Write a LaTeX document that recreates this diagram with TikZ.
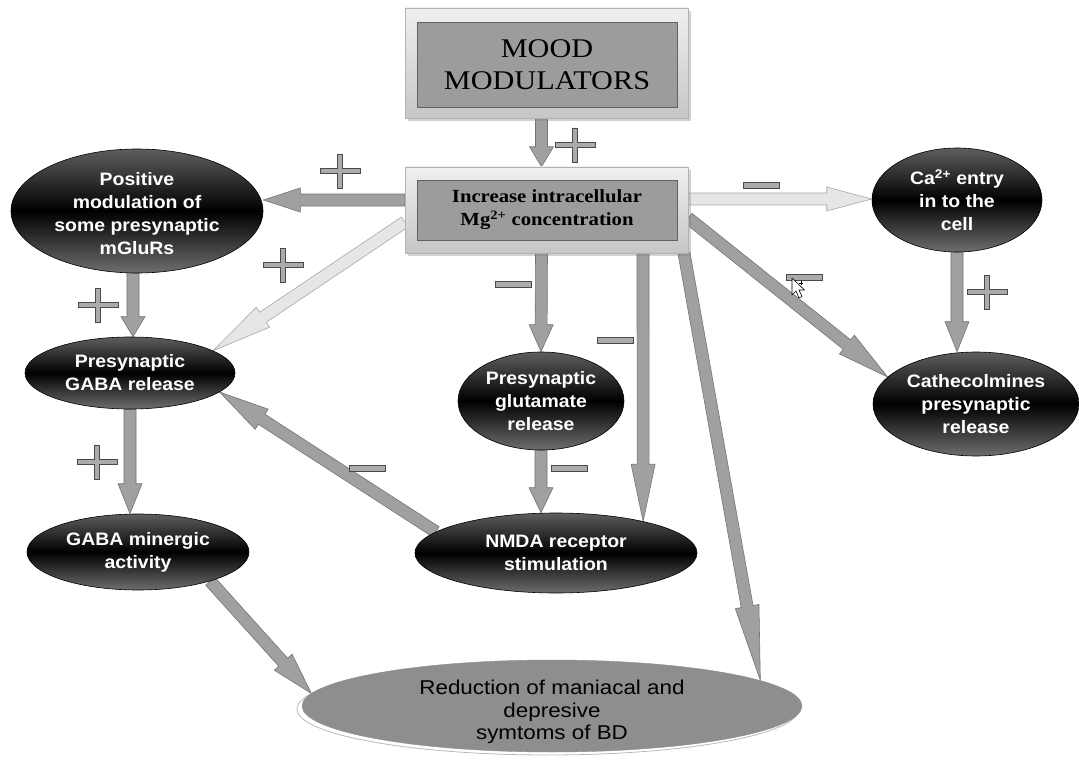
\documentclass[tikz,border=0pt]{standalone}
\usepackage{fontspec}
\setmainfont{Liberation Serif}
\newfontfamily\sanslab{Liberation Sans}[FakeStretch=1.08]
\newfontfamily\sanswide{Liberation Sans}[FakeStretch=1.12]
\newfontfamily\seriflab{Liberation Serif}[FakeStretch=1.12]
\usetikzlibrary{shapes.geometric,calc,shadows}
\pgfdeclarelayer{back}
\pgfdeclarelayer{bg}
\pgfsetlayers{back,bg,main}
\definecolor{arrfill}{HTML}{A0A0A0}
\definecolor{arrline}{HTML}{747474}
\definecolor{lightfill}{HTML}{E6E6E6}
\definecolor{lightline}{HTML}{A8A8A8}
\definecolor{innerbox}{HTML}{9C9C9C}
\definecolor{ellgray}{HTML}{5E5E5E}
\definecolor{redfill}{HTML}{8E8E8E}
\definecolor{signfill}{HTML}{ABABAB}
\definecolor{signline}{HTML}{4A4A4A}
\newcommand\fatarrow[4][]{%
  \path[fat,#1] let \p1=(#2), \p2=(#3),
    \n1={atan2(\y2-\y1,\x2-\x1)}, \n2={veclen(\x2-\x1,\y2-\y1)} in
    [shift={(\p1)},rotate=\n1]
    (0pt,-6pt) -- ({\n2-#4pt},-6pt) -- ({\n2-#4pt},-12pt) -- ({\n2},0pt)
    -- ({\n2-#4pt},12pt) -- ({\n2-#4pt},6pt) -- (0pt,6pt) -- cycle;}
\tikzset{
  fat/.style={fill=arrfill, draw=arrline, line width=0.6pt, line join=miter},
  lightfat/.style={fill=lightfill, draw=lightline},
  frame/.style={rectangle, inner sep=0pt, draw=gray!60, top color=gray!12, bottom color=gray!45,
    drop shadow={opacity=0.35, shadow xshift=3pt, shadow yshift=-3pt}},
  innerrect/.style={rectangle, inner sep=0pt, draw=gray!75!black, fill=innerbox, align=center},
  ell/.style={ellipse, inner sep=0pt, draw=black, line width=0.6pt, top color=ellgray,
    bottom color=ellgray!90, middle color=black, text=white, align=center,
    font=\sanslab\bfseries\fontsize{18}{23}\selectfont},
  signstyle/.style={fill=signfill, draw=signline, line width=0.8pt},
  pics/plussign/.style={code={\draw[signstyle] (-20,-2.5) -- (-2.5,-2.5) -- (-2.5,-17) -- (2.5,-17)
    -- (2.5,-2.5) -- (20,-2.5) -- (20,2.5) -- (2.5,2.5) -- (2.5,17) -- (-2.5,17) -- (-2.5,2.5)
    -- (-20,2.5) -- cycle;}},
  pics/minussign/.style={code={\draw[signstyle] (-18,-3) rectangle (18,3);}}
}
\begin{document}
\begin{tikzpicture}[x=1pt,y=-1pt]
\begin{pgfonlayer}{back}
\fill[white] (0,0) rectangle (1079,765);
\end{pgfonlayer}
\useasboundingbox (0,0) rectangle (1079,765);
% boxes
\node[frame, minimum width=283pt, minimum height=110pt] (moodframe) at (546.5,63) {};
\node[innerrect, minimum width=260pt, minimum height=85pt,
  font=\seriflab\fontsize{27}{32}\selectfont] (mood) at (547,64.5) {MOOD\\MODULATORS};
\node[frame, minimum width=283pt, minimum height=86pt] (incrframe) at (546.5,210) {};
\node[innerrect, minimum width=260pt, minimum height=60pt,
  font=\seriflab\bfseries\fontsize{18.5}{23}\selectfont] (incr) at (547,210)
  {Increase intracellular\\Mg\textsuperscript{2+} concentration};
% ellipses
\node[ell, minimum width=252pt, minimum height=124pt] (positive) at (137,211) {};
\node[text=white, align=center, font=\sanslab\bfseries\fontsize{18}{23}\selectfont] (positivetext)
  at ($(positive.center)+(0,3)$) {Positive\\modulation of\\some presynaptic\\mGluRs};
\node[ell, minimum width=170pt, minimum height=104pt] (ca) at (957,200)
  {Ca\textsuperscript{2+} entry\\in to the\\cell};
\node[ell, minimum width=210pt, minimum height=72pt] (gabarel) at (130,373)
  {Presynaptic\\GABA release};
\node[ell, minimum width=166pt, minimum height=98pt] (glut) at (541,401)
  {Presynaptic\\glutamate\\release};
\node[ell, minimum width=206pt, minimum height=104pt] (cath) at (976,404)
  {Cathecolmines\\presynaptic\\release};
\node[ell, minimum width=222pt, minimum height=76pt] (gabamin) at (138,552)
  {GABA minergic\\activity};
\node[ell, minimum width=282pt, minimum height=80pt] (nmda) at (556,553)
  {NMDA receptor\\stimulation};
\fill[white, draw=gray!55, line width=0.8pt] (548,709) ellipse [x radius=251pt, y radius=46pt];
\node[ellipse, inner sep=0pt, minimum width=500pt, minimum height=92pt, fill=redfill,
  draw=redfill] (red) at (552,706) {};
\node[align=center, font=\sanswide\fontsize{20}{22.5}\selectfont] (redtext)
  at ($(red.center)+(0,6)$) {Reduction of maniacal and\\depresive\\symtoms of BD};
% arrows
\begin{pgfonlayer}{bg}
\fatarrow{$(moodframe.south)+(-5,0)$}{$(incrframe.north)+(-5,0)$}{20}
\fatarrow{$(incrframe.west)+(0,-10)$}{$(positive.east)+(0,-11)$}{37}
\fatarrow[lightfat]{$(incrframe.east)+(0,-11)$}{$(ca.west)+(0,-1)$}{45}
\fatarrow{ca.south}{ca.south |- cath.north}{30}
\fatarrow{$(incrframe.east)+(0,8)$}{cath.163}{52}
\fatarrow[lightfat]{$(incrframe.west)+(0,12)$}{gabarel.15}{60}
\fatarrow{$(positive.south)+(-4,0)$}{$(positive.south |- gabarel.north)+(-4,0)$}{20}
\fatarrow{$(incrframe.south)+(-5,0)$}{glut.north}{27}
\fatarrow{glut.south}{glut.south |- nmda.north}{25}
\fatarrow{$(incrframe.south)+(96.5,0)$}{nmda.20}{57}
\fatarrow{$(incrframe.south)+(137.5,0)$}{red.7}{75}
\fatarrow{nmda.170}{gabarel.-12}{50}
\fatarrow{gabarel.south}{gabarel.south |- gabamin.north}{30}
\fatarrow{gabamin.-22}{red.177}{42}
\end{pgfonlayer}
% signs
\pic at (575,145) {plussign};
\pic at (340,171) {plussign};
\pic at (283,265) {plussign};
\pic at (98,305) {plussign};
\pic at (97,462) {plussign};
\pic at (987,292) {plussign};
\pic at (761,185) {minussign};
\pic at (804,277) {minussign};
\pic at (513,284) {minussign};
\pic at (615,340) {minussign};
\pic at (569,468) {minussign};
\pic at (367,468) {minussign};
% cursor
\draw[fill=white, line width=0.6pt, line join=round] (792,278) -- ++(0,17) -- ++(4,-4) -- ++(3,7)
  -- ++(3,-1.5) -- ++(-3,-6.5) -- ++(5.5,0) -- cycle;
\draw[line width=0.6pt] (799,283) -- (803,283) (801,281) -- (801,285);
\end{tikzpicture}
\end{document}
